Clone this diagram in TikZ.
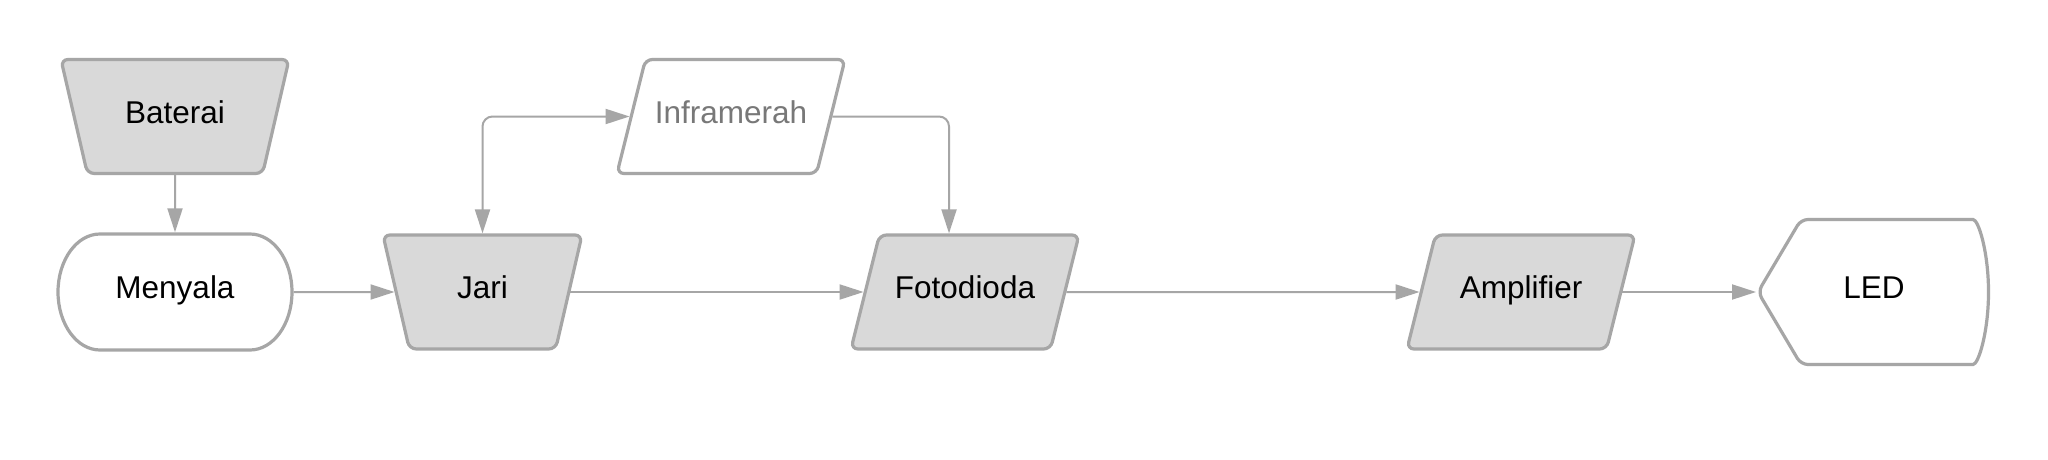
\documentclass[tikz,border=0pt]{standalone}
\usepackage{fontspec}
\setmainfont{Liberation Sans}
\usetikzlibrary{shapes.geometric,arrows.meta}
\definecolor{edgegray}{RGB}{166,166,166}
\definecolor{boxfill}{RGB}{217,217,217}
\definecolor{softtext}{RGB}{120,120,120}
\begin{document}
\begin{tikzpicture}[x=1pt,y=-1pt,
  label text/.style={font=\fontsize{31.5}{36}\selectfont, text height=21pt, text depth=8pt, inner sep=0pt},
  outline/.style={draw=edgegray, line width=3.2pt},
  base/.style={outline, rounded corners=7pt, label text},
  trap/.style={base, trapezium, trapezium stretches body,
    trapezium left angle=103, trapezium right angle=103,
    inner xsep=0pt, inner ysep=42.5pt, fill=boxfill},
  para/.style={base, trapezium, trapezium stretches body,
    trapezium left angle=76, trapezium right angle=104,
    inner xsep=0pt, inner ysep=42.5pt, minimum width=228pt},
  conn/.style={draw=edgegray, line width=2pt, -{Triangle[length=24pt,width=15pt]}},
  twoway/.style={draw=edgegray, line width=2pt, {Triangle[length=24pt,width=15pt]}-{Triangle[length=24pt,width=15pt]}},
]
\useasboundingbox[fill=white] (0,0) rectangle (2048,460);

% Menyala terminal outline (elliptical ends)
\draw[outline, fill=white]
  (100,234) -- (250,234)
  arc[start angle=-90, end angle=90, x radius=42, y radius=58]
  -- (100,350)
  arc[start angle=90, end angle=270, x radius=42, y radius=58] -- cycle;

\node[trap, minimum width=228pt] (bat) at (175,116.5) {Baterai};
\node[label text, rectangle, minimum width=237pt, minimum height=119pt] (meny) at (175,292) {Menyala};
\node[trap, minimum width=199pt] (jari) at (482.5,292) {Jari};
\node[para, fill=white, text=softtext] (infra) at (731,116.5) {Inframerah};
\node[para, fill=boxfill] (foto) at (965,292) {Fotodioda};
\node[para, fill=boxfill] (amp) at (1521,292) {Amplifier};

% LED display shape
\draw[outline, fill=white, rounded corners=7pt]
  (1758,292) -- (1801,219.5) -- (1966,219.5)
  arc[start angle=-90, end angle=90, x radius=22.5, y radius=72.5]
  -- (1801,364.5) -- cycle;
\coordinate (ledtip) at (1756,292);
\node[label text] (led) at (1874,292) {LED};

% connectors
\draw[conn] (bat) -- (meny);
\draw[conn] (meny) -- (jari);
\draw[twoway, rounded corners=10pt] (jari) |- (infra);
\draw[conn, rounded corners=10pt] (infra) -| ([xshift=-16pt]foto.north);
\draw[conn] (jari) -- (foto);
\draw[conn] (foto) -- (amp);
\draw[conn] (amp) -- (ledtip);
\end{tikzpicture}
\end{document}
